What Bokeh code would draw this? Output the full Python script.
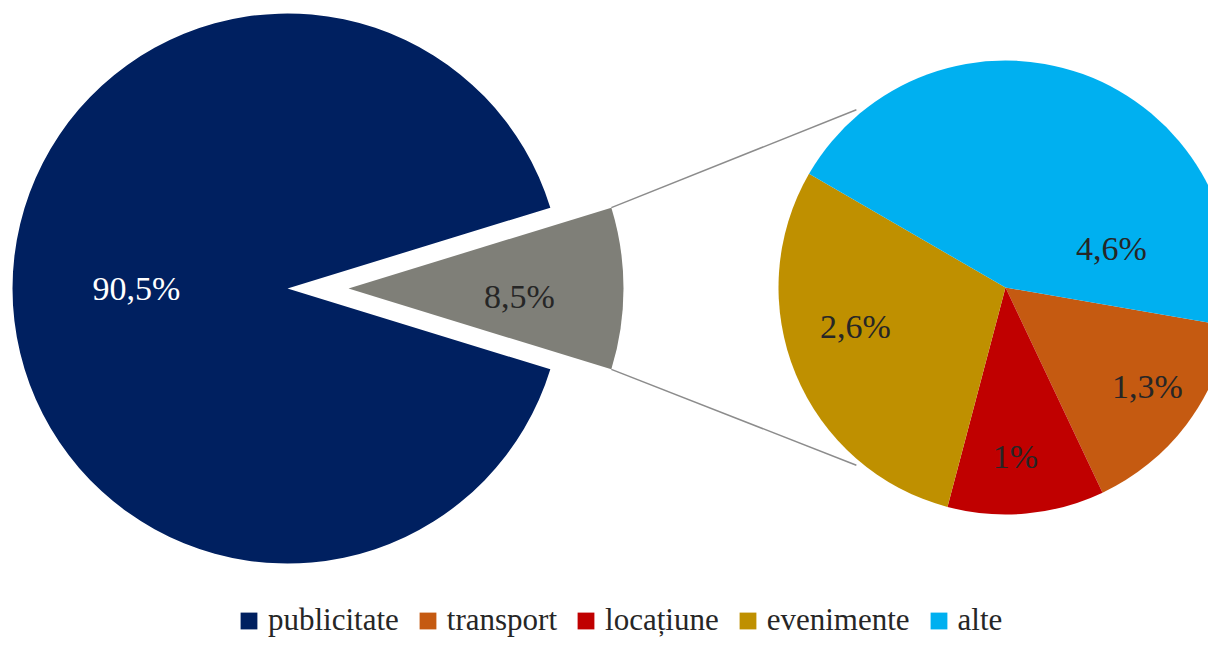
import math
from bokeh.plotting import figure
from bokeh.models import ColumnDataSource, Range1d, Legend, LegendItem
from bokeh.core.properties import value
from bokeh.embed import file_html
from bokeh.resources import INLINE

# ---------------- data ----------------
main_categories = ["publicitate", "alte cheltuieli"]
main_values = [90.5, 9.5]
main_labels = ["90,5%", "8,5%"]

sub_categories = ["transport", "locațiune", "evenimente", "alte"]
sub_values = [1.45, 1.06, 2.78, 4.22]
sub_labels = ["1,3%", "1%", "2,6%", "4,6%"]

legend_order = ["publicitate", "transport", "locațiune", "evenimente", "alte"]

# ---------------- style / layout ----------------
main_colors = ["#002060", "#7F7F78"]
sub_colors = ["#C55A11", "#C00000", "#BF9000", "#00B0F0"]
label_colors = ["#FFFFFF", "#262626", "#262626", "#262626", "#262626", "#262626"]
FONT = "Liberation Serif"

W, H = 1208, 641
# data units == pixels; y measured upward from the bottom of the figure
main_cx, main_cy, main_r = 287, 353, 275
explode = 61
sub_cx, sub_cy, sub_r = 1005, 354, 227
sub_start_deg = -9.8          # boundary where the first (transport) slice begins, going clockwise
connector_deg = 130.0
connector_extra = 5

main_label_off = [(-151, 0), (232, -8)]           # offsets from the main pie centre
sub_label_off = [(142, -99), (10, -169), (-150, -39), (106, 39)]

p = figure(width=W, height=H, x_range=Range1d(0, W), y_range=Range1d(0, H),
           output_backend="svg", toolbar_location=None, min_border=0,
           background_fill_color="white", border_fill_color="white")
p.axis.visible = False
p.grid.visible = False
p.outline_line_color = None

# ---- main pie ----
tot = sum(main_values)
other_span = main_values[1] / tot * 2 * math.pi
half = other_span / 2
main_src = ColumnDataSource(dict(
    x=[main_cx, main_cx + explode],
    y=[main_cy, main_cy],
    start=[half, -half],
    end=[2 * math.pi - half, half],
    color=main_colors,
    cat=main_categories,
))
r_main = p.wedge(x="x", y="y", radius=main_r, start_angle="start", end_angle="end",
                 direction="anticlock", fill_color="color", line_color=None, source=main_src)

# ---- sub pie ----
stot = sum(sub_values)
starts, ends = [], []
a = math.radians(sub_start_deg)
for v in sub_values:
    span = v / stot * 2 * math.pi
    ends.append(a)
    starts.append(a - span)
    a -= span
sub_src = ColumnDataSource(dict(
    x=[sub_cx] * len(sub_values), y=[sub_cy] * len(sub_values),
    start=starts, end=ends, color=sub_colors, cat=sub_categories,
))
r_sub = p.wedge(x="x", y="y", radius=sub_r, start_angle="start", end_angle="end",
                direction="anticlock", fill_color="color", line_color=None, source=sub_src)

# ---- connector lines ----
gx = main_cx + explode + main_r * math.cos(half)
gy_top = main_cy + main_r * math.sin(half)
gy_bot = main_cy - main_r * math.sin(half)
ca = math.radians(connector_deg)
rr = sub_r + connector_extra
ex = sub_cx + rr * math.cos(ca)
ey_top = sub_cy + rr * math.sin(ca)
ey_bot = sub_cy - rr * math.sin(ca)
p.segment(x0=[gx, gx], y0=[gy_top, gy_bot], x1=[ex, ex], y1=[ey_top, ey_bot],
          line_color="#8C8C8C", line_width=1.5)

# ---- labels ----
lab_src = ColumnDataSource(dict(
    x=[main_cx + o[0] for o in main_label_off] + [sub_cx + o[0] for o in sub_label_off],
    y=[main_cy + o[1] for o in main_label_off] + [sub_cy + o[1] for o in sub_label_off],
    text=main_labels + sub_labels,
    color=label_colors,
))
p.text(x="x", y="y", text="text", text_color="color", text_align="center",
       text_baseline="middle", text_font=value(FONT), text_font_size="34px", source=lab_src)

# ---- legend ----
items = []
for name in legend_order:
    if name in main_categories:
        items.append(LegendItem(label=name, renderers=[r_main], index=main_categories.index(name)))
    else:
        items.append(LegendItem(label=name, renderers=[r_sub], index=sub_categories.index(name)))
legend = Legend(items=items, orientation="horizontal", location=(238, 3),
                glyph_width=21, glyph_height=21, label_standoff=9, spacing=18,
                label_text_font=FONT, label_text_font_size="31px", label_text_color="#262626",
                label_height=21, padding=0, margin=0, border_line_color=None,
                background_fill_alpha=0)
p.add_layout(legend, "center")

open("out.html", "w").write(file_html(p, INLINE))
